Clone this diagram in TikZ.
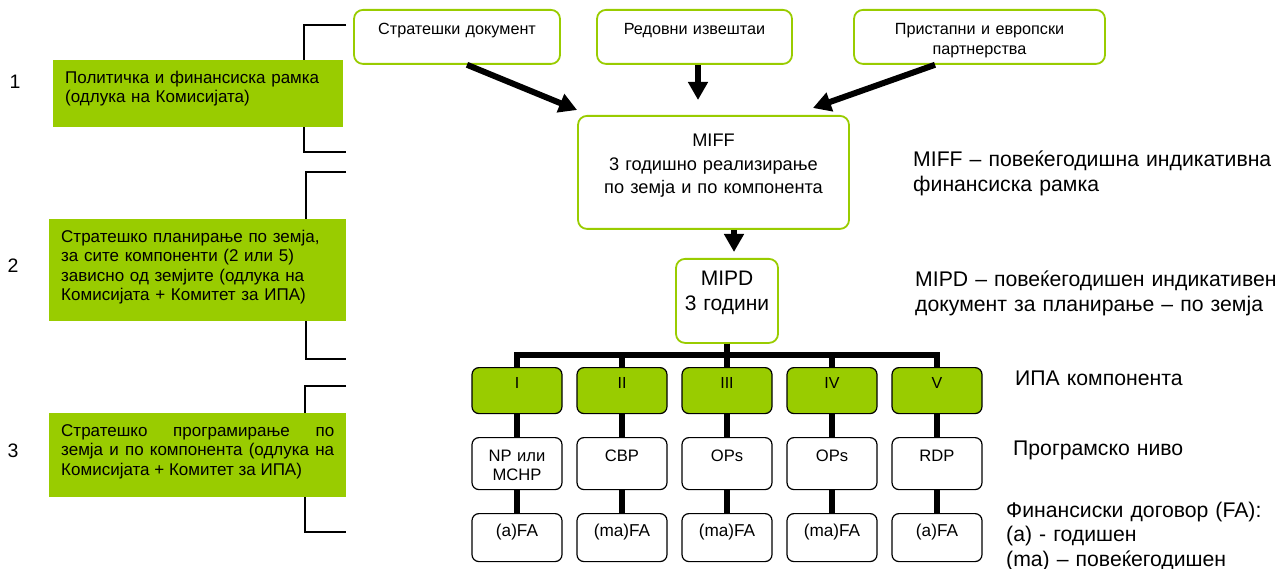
\documentclass[tikz,border=0pt]{standalone}
\usepackage{fontspec}
\setmainfont{Liberation Sans}
\usetikzlibrary{arrows.meta}
\definecolor{ipagreen}{RGB}{153,204,0}

\begin{document}
\begin{tikzpicture}[x=1pt,y=-1pt,
  rbox/.style={draw=ipagreen,line width=1.8pt,rounded corners=9pt,fill=white,
    anchor=north,inner sep=0pt,align=center},
  gbox/.style={fill=ipagreen,anchor=north west,inner xsep=12pt,inner ysep=0pt,
    text height=23pt,font=\fontsize{17}{19.5}\selectfont},
  cbox/.style={draw,line width=1.2pt,rounded corners=7pt,anchor=north,inner sep=0pt,
    align=center,text width=90pt},
  comp/.style={cbox,fill=ipagreen,text height=21pt,text depth=25pt,
    font=\fontsize{16}{19}\selectfont},
  prg/.style={cbox,text height=24pt,text depth=28pt,font=\fontsize{16.6}{19}\selectfont},
  fa/.style={cbox,text height=23pt,text depth=25pt,font=\fontsize{17.2}{19}\selectfont},
  num/.style={anchor=base,font=\fontsize{19.5}{24}\selectfont},
  note/.style={anchor=base west,align=left,text width=370pt,inner sep=0pt,
    font=\fontsize{21.2}{24.5}\selectfont},
  bracket/.style={line width=1.8pt},
  bigarrow/.style={line width=6pt,-{Triangle[length=18pt,width=19pt]}},
  tree/.style={line width=5.5pt}]
  \useasboundingbox (0,0) rectangle (1285,569);

  % brackets on the left
  \draw[bracket] (346,25) -- (304,25) -- (304,152) -- (346,152);
  \draw[bracket] (346,172) -- (306,172) -- (306,359) -- (346,359);
  \draw[bracket] (346,386) -- (305,386) -- (305,532) -- (346,532);

  \node[num] (n1) at (15,89) {1};
  \node[num] (n2) at (13,273) {2};
  \node[num] (n3) at (13,457) {3};

  \node[gbox,text width=266pt,text depth=44pt,align=left] (pol) at (53,60)
    {Политичка и финансиска рамка\\(одлука на Комисијата)};
  \node[gbox,text width=273pt,text depth=79pt,align=left] (plan) at (49,219)
    {Стратешко планирање по земја,\\за сите компоненти (2 или 5)\\зависно од земјите (одлука на\\Комисијата + Комитет за ИПА)};
  \node[gbox,text width=273pt,text depth=61pt,align=justify] (prog) at (49,413)
    {Стратешко програмирање по\linebreak земја и по компонента (одлука на\linebreak Комисијата + Комитет за ИПА)};

  % top documents
  \node[rbox,text width=206pt,text height=24.5pt,text depth=29.5pt,
    font=\fontsize{16.2}{20}\selectfont] (doc) at (457,9) {Стратешки документ};
  \node[rbox,text width=195pt,text height=24.5pt,text depth=29.5pt,
    font=\fontsize{16.2}{20}\selectfont] (news) at (694.5,9) {Редовни извештаи};
  \node[rbox,text width=251pt,text height=24.5pt,text depth=29.5pt,
    font=\fontsize{16.2}{20}\selectfont] (acc) at (979.5,9) {Пристапни и европски\\партнерства};

  \node[rbox,text width=271pt,text height=31pt,text depth=82pt,
    font=\fontsize{18.2}{23.5}\selectfont] (miff) at (713.5,115)
    {MIFF\\3 годишно реализирање\\по земја и по компонента};
  \node[rbox,text width=102pt,text height=27pt,text depth=57pt,
    font=\fontsize{21}{25}\selectfont] (mipd) at (727,258) {MIPD\\3 години};

  \draw[bigarrow] ([xshift=10pt]doc.south) -- ([yshift=5pt]miff.north west);
  \draw[bigarrow] ([xshift=3.5pt]news.south) -- ([xshift=3.5pt,yshift=15pt]news.south |- miff.north);
  \draw[bigarrow] ([xshift=-44.5pt]acc.south) -- ([xshift=-37pt,yshift=7pt]miff.north east);
  \draw[bigarrow] ([xshift=7pt]mipd.north |- miff.south) -- ([xshift=7pt,yshift=6pt]mipd.north);

  % components
  \node[comp] (c1) at (517,367) {I};
  \node[comp] (c2) at (622,367) {II};
  \node[comp] (c3) at (727,367) {III};
  \node[comp] (c4) at (832,367) {IV};
  \node[comp] (c5) at (937,367) {V};

  \node[prg] (p1) at (517,437) {NP или\\MCHP};
  \node[prg] (p2) at (622,437) {CBP};
  \node[prg] (p3) at (727,437) {OPs};
  \node[prg] (p4) at (832,437) {OPs};
  \node[prg] (p5) at (937,437) {RDP};

  \node[fa] (f1) at (517,513) {(a)FA};
  \node[fa] (f2) at (622,513) {(ma)FA};
  \node[fa] (f3) at (727,513) {(ma)FA};
  \node[fa] (f4) at (832,513) {(ma)FA};
  \node[fa] (f5) at (937,513) {(a)FA};

  \draw[tree] (mipd.south) -- ++(0,11) -| (c1.north);
  \draw[tree] (mipd.south) -- ++(0,11) -| (c2.north);
  \draw[tree] (mipd.south) -- ++(0,11) -| (c3.north);
  \draw[tree] (mipd.south) -- ++(0,11) -| (c4.north);
  \draw[tree] (mipd.south) -- ++(0,11) -| (c5.north);

  \path[tree]
   (c1) edge (p1) (p1) edge (f1)
   (c2) edge (p2) (p2) edge (f2)
   (c3) edge (p3) (p3) edge (f3)
   (c4) edge (p4) (p4) edge (f4)
   (c5) edge (p5) (p5) edge (f5);

  % notes on the right
  \node[note] (nmiff) at (913,167) {MIFF – повеќегодишна индикативна\\финансиска рамка};
  \node[note] (nmipd) at (915,287) {MIPD – повеќегодишен индикативен\\документ за планирање – по земја};
  \node[note] (ncomp) at (1015,385) {ИПА компонента};
  \node[note] (nprg) at (1013,455) {Програмско ниво};
  \node[note] (nfa) at (1006,517) {Финансиски договор (FA):\\(a) - годишен\\(ma) – повеќегодишен};
\end{tikzpicture}
\end{document}
